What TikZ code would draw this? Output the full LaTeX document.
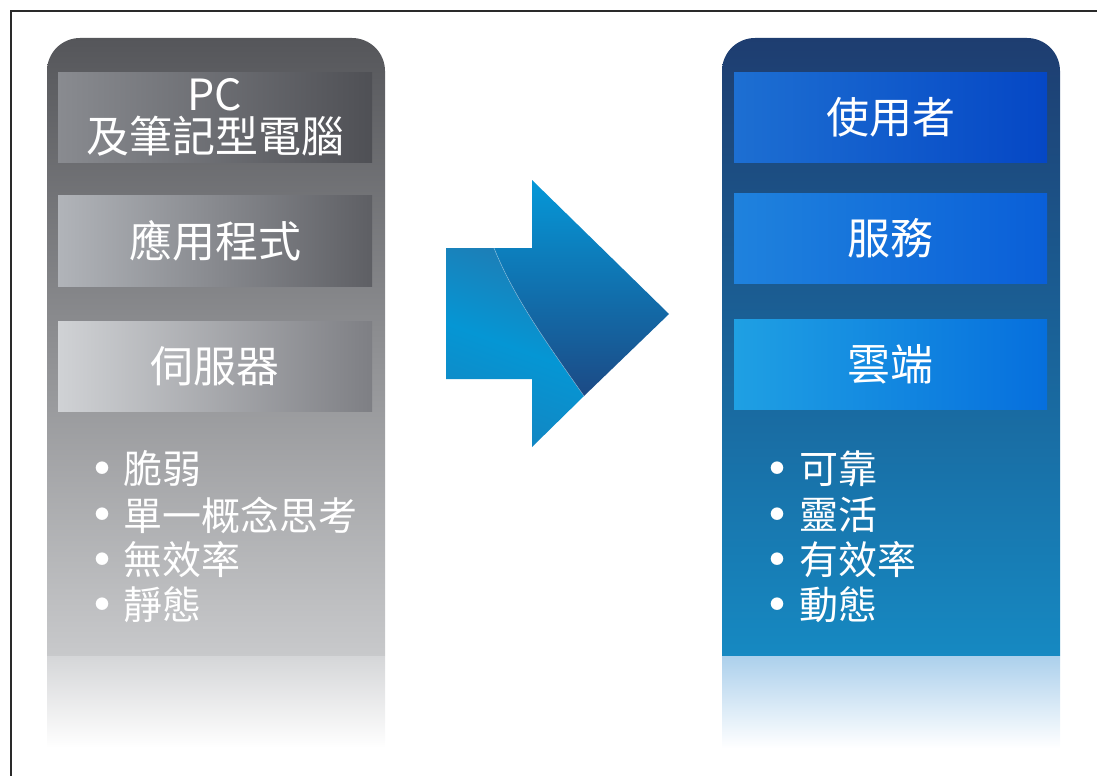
\documentclass[tikz,border=0pt]{standalone}
\usepackage{fontspec}
\setmainfont{Noto Sans CJK TC}
\definecolor{gTop}{HTML}{55565A}
\definecolor{gBot}{HTML}{C8C9CB}
\definecolor{gFade}{HTML}{D5D6D8}
\definecolor{bTop}{HTML}{1E3D70}
\definecolor{bBot}{HTML}{1689C2}
\definecolor{bFade}{HTML}{ACD0EC}
\definecolor{frameC}{HTML}{2A2A2A}
\definecolor{la1}{HTML}{898B90}\definecolor{lb1c}{HTML}{4F5055}
\definecolor{la2}{HTML}{B1B4B9}\definecolor{lb2c}{HTML}{5E5F64}
\definecolor{la3}{HTML}{D0D2D5}\definecolor{lb3c}{HTML}{7E7F84}
\definecolor{ra1}{HTML}{1D6FD2}\definecolor{rb1c}{HTML}{0547C5}
\definecolor{ra2}{HTML}{1F82DD}\definecolor{rb2c}{HTML}{0A5FD8}
\definecolor{ra3}{HTML}{1FA0E3}\definecolor{rb3c}{HTML}{066FDD}
\definecolor{arA}{HTML}{1E7DB5}\definecolor{arB}{HTML}{1386C2}\definecolor{arM}{HTML}{0596D4}
\definecolor{arT}{HTML}{0598D8}\definecolor{arD}{HTML}{1C4A85}
\begin{document}
\begin{tikzpicture}[x=1pt,y=-1pt,
  box/.style={rectangle, inner sep=0pt, minimum width=314pt, minimum height=90pt,
    text=white, font=\fontsize{43}{45}\selectfont, align=center},
  bullet/.style={text=white, font=\fontsize{14}{15}\selectfont, inner sep=0pt, anchor=base},
  item/.style={text=white, font=\fontsize{39}{41}\selectfont, inner sep=0pt, anchor=west}]
\useasboundingbox (0,0) rectangle (1097,776);
% frame
\draw[frameC, line width=1.3pt] (1097,11) -- (11,11) -- (11,776);
% left panel
\path[top color=gTop, bottom color=gBot]
  (47,656) [rounded corners=33pt] -- (47,38) -- (385,38) [sharp corners] -- (385,656) -- cycle;
\path[top color=gFade, bottom color=white] (47,656) rectangle (385,748);
% right panel
\path[top color=bTop, bottom color=bBot]
  (722,656) [rounded corners=33pt] -- (722,38) -- (1060,38) [sharp corners] -- (1060,656) -- cycle;
\path[top color=bFade, bottom color=white] (722,656) rectangle (1060,748);
% left boxes
\node[box, left color=la1, right color=lb1c] (l1) at (215,117)
  {PC\\[-3pt]及筆記型電腦};
\node[box, minimum height=91pt, left color=la2, right color=lb2c] (l2) at (215,240.5) {應用程式};
\node[box, left color=la3, right color=lb3c] (l3) at (215,366) {伺服器};
% right boxes
\node[box, minimum width=313pt, left color=ra1, right color=rb1c] (r1) at (890.5,117) {使用者};
\node[box, minimum width=313pt, left color=ra2, right color=rb2c] (r2) at (890.5,238) {服務};
\node[box, minimum width=313pt, left color=ra3, right color=rb3c] (r3) at (890.5,364) {雲端};
% left bullets
\foreach \t/\y [count=\i] in {脆弱/469, 單一概念思考/515, 無效率/560, 靜態/605}{
  \node[bullet] (lb\i) at (102,\y+4.8) {●};
  \node[item] (lt\i) at (123,\y) {\t};
}
% right bullets
\foreach \t/\y [count=\i] in {可靠/469, 靈活/515, 有效率/560, 動態/605}{
  \node[bullet] (rb\i) at (777,\y+4.8) {●};
  \node[item] (rt\i) at (799,\y) {\t};
}
% arrow
\path[top color=arA, bottom color=arB, middle color=arM, shading angle=-20]
  (446,248) -- (494,248) .. controls (514,298) and (549,346) .. (584,396)
  -- (532,447) -- (532,379) -- (446,379) -- cycle;
\path[top color=arT, bottom color=arD]
  (494,248) -- (532,248) -- (532,180) -- (669,314) -- (584,396)
  .. controls (549,346) and (514,298) .. (494,248) -- cycle;
\draw[white, opacity=0.35, line width=0.6pt] (494,248) .. controls (514,298) and (549,346) .. (584,396);
\end{tikzpicture}
\end{document}
